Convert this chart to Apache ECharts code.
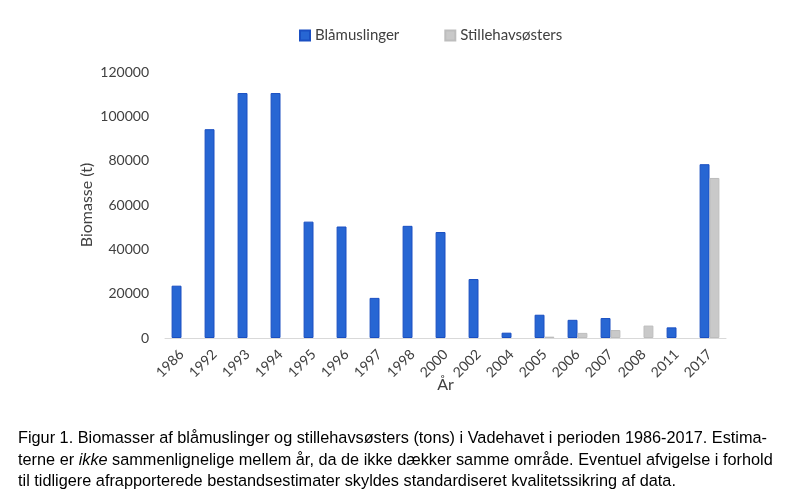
<!DOCTYPE html>
<html><head><meta charset="utf-8">
<script src="https://cdn.jsdelivr.net/npm/echarts@6/dist/echarts.min.js"></script>
<style>html,body{margin:0;padding:0;background:#fff}#c{width:792px;height:500px}</style>
</head><body><div id="c"></div>
<script>
const years = ['1986','1992','1993','1994','1995','1996','1997','1998','2000','2002','2004','2005','2006','2007','2008','2011','2017'];
const blamuslinger = [23600, 94200, 110500, 110500, 52500, 50300, 18100, 50600, 47800, 26600, 2400, 10500, 8200, 9000, null, 4800, 78400];
const stillehavsosters = [null, null, null, null, null, null, null, null, null, null, null, 600, 2300, 3600, 5600, null, 72200];
const yTicks = [0, 20000, 40000, 60000, 80000, 100000, 120000];

const chart = echarts.init(document.getElementById('c'), null, {renderer:'canvas'});
const font = 'Lato';
chart.setOption({
  animation:false,
  title:{
    left:18, top:428, padding:0,
    text:'Figur 1. Biomasser af blåmuslinger og stillehavsøsters (tons) i Vadehavet i perioden 1986-2017. Estima-\nterne er {i|ikke} sammenlignelige mellem år, da de ikke dækker samme område. Eventuel afvigelse i forhold\ntil tidligere afrapporterede bestandsestimater skyldes standardiseret kvalitetssikring af data.',
    textStyle:{fontFamily:'Liberation Sans', fontSize:16.3, fontWeight:'normal', color:'#000', lineHeight:21.5,
      rich:{i:{fontStyle:'italic', fontFamily:'Liberation Sans', fontSize:16.3, color:'#000', lineHeight:21.5}}}
  },
  legend:{
    top:23, left:294, itemWidth:10, itemHeight:10, itemGap:45, icon:'rect',
    textStyle:{fontFamily:font, fontSize:15, color:'#404040'},
    data:['Blåmuslinger','Stillehavsøsters']
  },
  grid:{left:165, right:66, top:72, bottom:162},
  xAxis:{
    type:'category', data:years, name:'År', nameLocation:'middle', nameGap:39, nameMoveOverlap:false,
    nameTextStyle:{fontFamily:font, fontSize:16, color:'#404040'},
    axisLine:{lineStyle:{color:'#d9d9d9', width:1}},
    axisTick:{show:false},
    axisLabel:{rotate:45, interval:0, fontFamily:font, fontSize:14, color:'#404040', margin:14}
  },
  yAxis:{
    type:'value', min:0, max:120000, interval:20000,
    name:'Biomasse (t)', nameLocation:'middle', nameGap:70, nameRotate:90, nameMoveOverlap:false,
    nameTextStyle:{fontFamily:font, fontSize:16, color:'#404040'},
    axisLine:{show:false}, axisTick:{show:false}, splitLine:{show:false},
    axisLabel:{fontFamily:font, fontSize:14, color:'#404040', margin:16, formatter:function(v){return String(v);}}
  },
  series:[
    {name:'Blåmuslinger', type:'bar', data:blamuslinger, barGap:'0%', barCategoryGap:'40%',
     itemStyle:{color:'#2766d3', borderColor:'#1a4fc2', borderWidth:1}},
    {name:'Stillehavsøsters', type:'bar', data:stillehavsosters,
     itemStyle:{color:'#c9c9c9', borderColor:'#bdbdbd', borderWidth:1}}
  ]
});
</script></body></html>
